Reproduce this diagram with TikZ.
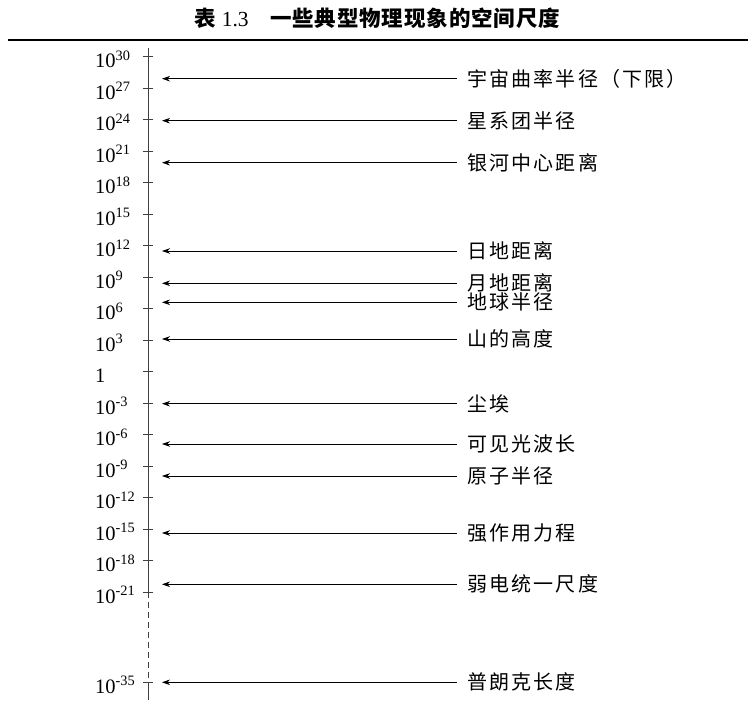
\documentclass[tikz,border=0pt]{standalone}
\usepackage{fontspec}
\setmainfont{Liberation Serif}
\newfontfamily\cjk{Noto Sans CJK SC}[LetterSpace=11]
\newfontfamily\cjktitle{Noto Sans CJK SC}[LetterSpace=4]
\usetikzlibrary{arrows.meta}
\tikzset{
    % Vertical axis and its ticks
    axis line/.style={line width=0.9bp, draw=black!75},
    tick mark/.style={line width=0.9bp, draw=black!75},
    % Powers of ten left of the axis
    power label/.style={
        anchor=base west,
        inner sep=0pt,
        font=\fontsize{20.5bp}{24bp}\selectfont,
    },
    % Phenomenon names at the right
    scale label/.style={
        anchor=west,
        inner xsep=10bp,
        inner ysep=0pt,
        font=\cjk\fontsize{20bp}{24bp}\selectfont,
    },
    % Pointer arrow
    arrow/.style={
        -{Stealth[length=8bp, width=5.5bp, inset=2.5bp]},
        line width=0.7bp,
    },
}

\begin{document}
\begin{tikzpicture}[x=1bp, y=-1bp]
    \useasboundingbox (0,0) rectangle (755,714);

    \node (title) at (377.5,18) {\fontsize{21.5bp}{24bp}\selectfont{\cjktitle\bfseries 表}\ 1.3\hspace{1em}{\cjktitle\bfseries 一些典型物理现象的空间尺度}};
    \coordinate (ruleL) at (8,40);
    \coordinate (ruleR) at (748,40);
    \draw [line width=1.6bp] (ruleL) -- (ruleR);

    % ticks every three decades
    \foreach \e [count=\i from 0] in {30,27,...,-21} {
        \coordinate (t\i) at (148,{56.5+31.52*\i});
        \draw [tick mark] ([xshift=-5bp]t\i) -- ([xshift=5bp]t\i);
        \node [power label] (p\i) at (95,{56.5+31.52*\i+11}) {\ifnum\e=0 1\else 10\textsuperscript{\e}\fi};
    }
    \coordinate (planck) at (148,682.3);
    \draw [tick mark] ([xshift=-5bp]planck) -- ([xshift=5bp]planck);
    \node [power label] (p35) at (95,693.3) {10\textsuperscript{-35}};

    \coordinate (top) at (148,48);
    \coordinate (bottom) at (148,700);
    \draw [axis line] (top) -- (t17);
    \draw [axis line, dash pattern=on 6bp off 4bp] (t17) -- (planck);
    \draw [axis line] (planck) -- (bottom);

    % phenomena
    \foreach \y/\txt [count=\k] in {78.7/宇宙曲率半径（下限）, 120.7/星系团半径, 162.7/银河中心距离,
        251/日地距离, 283.3/月地距离, 302.3/地球半径, 339/山的高度, 403.7/尘埃,
        444/可见光波长, 476/原子半径, 533/强作用力程, 584.3/弱电统一尺度, 682.3/普朗克长度} {
        \coordinate (tip\k) at (162,\y);
        \node [scale label] (s\k) at (457,\y) {\txt};
        \draw [arrow] (s\k.west) -- (tip\k);
    }
\end{tikzpicture}
\end{document}
